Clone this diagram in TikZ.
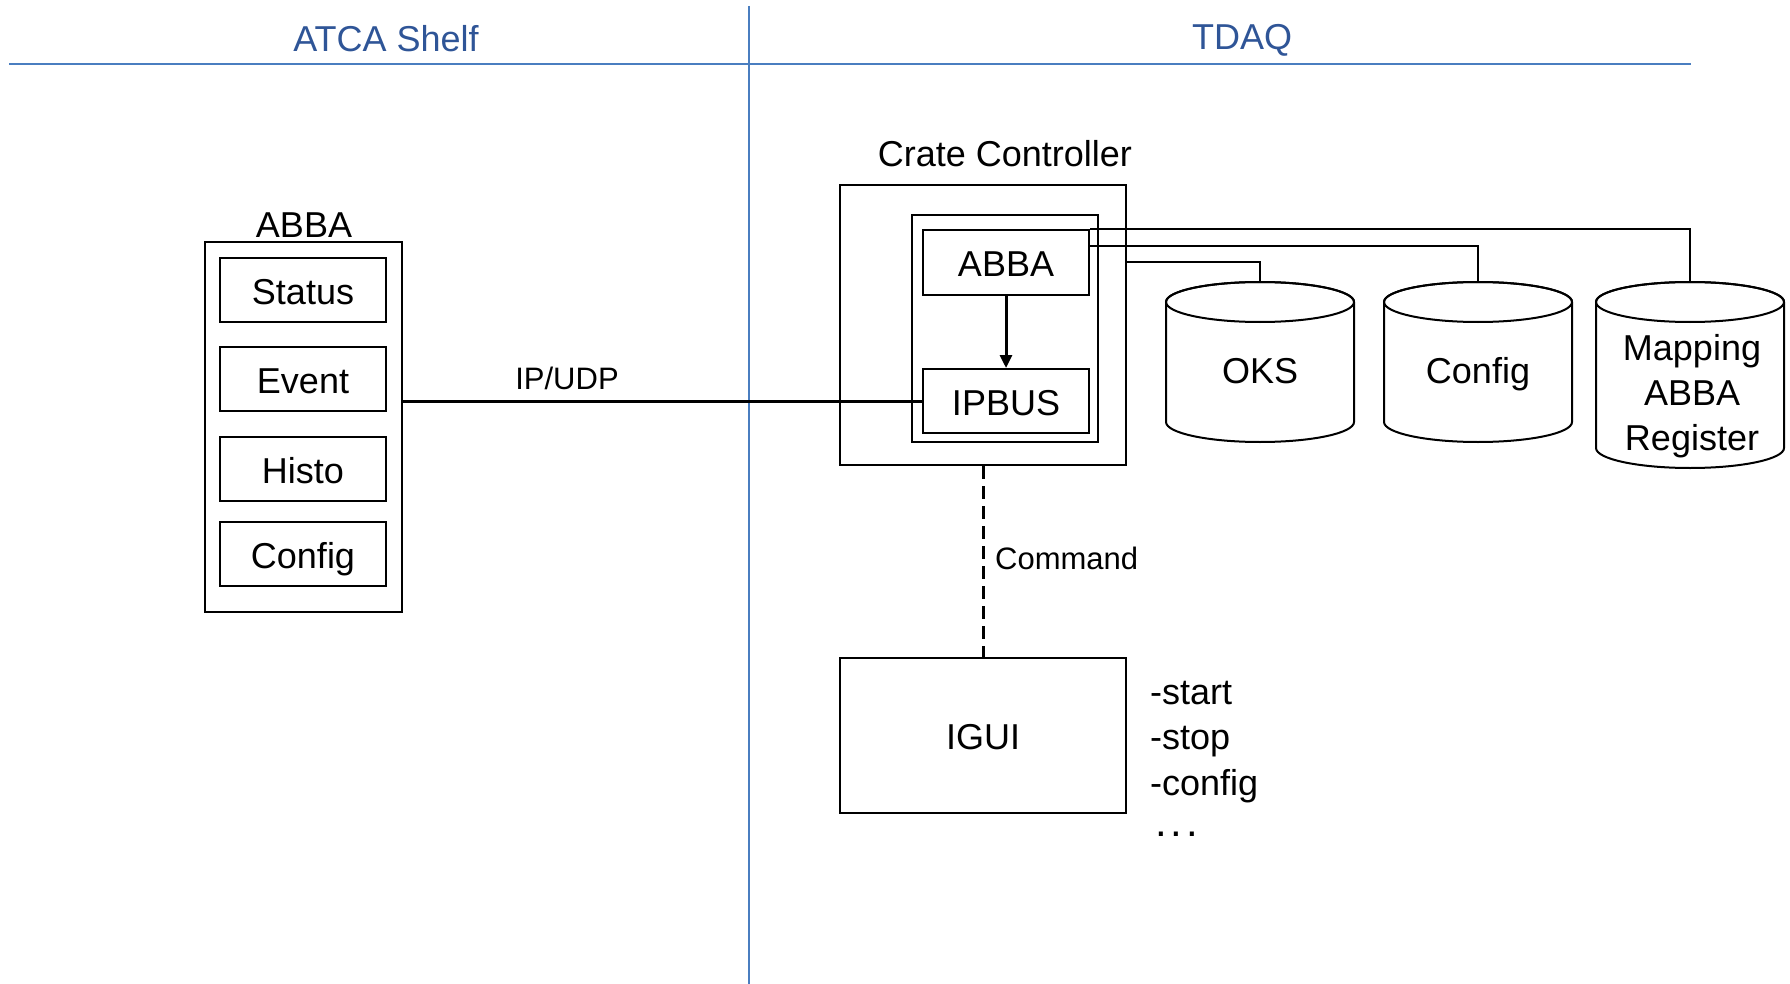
\documentclass[tikz,border=0pt]{standalone}
\usepackage{fontspec}
\setmainfont{Liberation Sans}
\usetikzlibrary{arrows.meta}
\definecolor{hdrtext}{HTML}{2F5597}
\definecolor{hdrline}{HTML}{4A7EC0}
\tikzset{
  x=1pt, y=1pt,
  box/.style={draw, line width=2pt, inner sep=0pt, text height=28pt, text depth=0pt, font=\fontsize{36}{43}\selectfont},
  lbl/.style={inner sep=0pt, text height=28pt, text depth=0pt, font=\fontsize{36}{43}\selectfont},
  small/.style={inner sep=0pt, font=\fontsize{31}{37}\selectfont},
  hdr/.style={inner sep=0pt, text height=26pt, text depth=0pt, text=hdrtext, font=\fontsize{36}{43}\selectfont},
  conn/.style={line width=2pt},
  cyl/.style={draw, line width=2pt, fill=white},
}
\begin{document}
\begin{tikzpicture}
\useasboundingbox (0,0) rectangle (1790,-984);
% header
\draw[hdrline, line width=2pt] (9,-64) -- (1691,-64);
\draw[hdrline, line width=2pt] (749,-6) -- (749,-984);
\node[hdr] (atca) at (386,-39) {ATCA Shelf};
\node[hdr] (tdaq) at (1242,-37) {TDAQ};

% left ABBA
\node[box, minimum width=197pt, minimum height=370pt] (labba) at (303.5,-427) {};
\node[lbl] (labbat) at (304,-224) {ABBA};
\node[box, minimum width=166pt, minimum height=64pt] (status) at (303,-290) {Status};
\node[box, minimum width=166pt, minimum height=64pt] (event) at (303,-379) {Event};
\node[box, minimum width=166pt, minimum height=64pt] (histo) at (303,-469) {Histo};
\node[box, minimum width=166pt, minimum height=64pt] (lconfig) at (303,-554) {Config};

% crate controller
\node[box, minimum width=286pt, minimum height=280pt] (crate) at (983,-325) {};
\node[lbl] (cratet) at (1005,-153) {Crate Controller};
\node[box, minimum width=186pt, minimum height=227pt] (inner) at (1005,-328.5) {};
\node[box, minimum width=166pt, minimum height=65pt] (abba) at (1006,-262.5) {ABBA};
\node[box, minimum width=166pt, minimum height=64pt] (ipbus) at (1006,-401) {IPBUS};

% IGUI
\node[box, minimum width=286pt, minimum height=155pt] (igui) at (983,-735.5) {IGUI};
\node[lbl, anchor=base west] (cstart) at (1150,-704) {-start};
\node[lbl, anchor=base west] (cstop) at (1150,-749.5) {-stop};
\node[lbl, anchor=base west] (cconfig) at (1150,-795) {-config};
\node[lbl, anchor=base west, font=\fontsize{42}{50}\selectfont] (cdots) at (1155,-836) {.\kern4pt.\kern4pt.};

% cylinders
\foreach \cx/\bot/\nm in {1260/442/oks, 1478/442/cfg, 1690/468/map}{
  \path[cyl] (\cx-94,-302) -- (\cx-94,-\bot+20)
     arc[start angle=180, end angle=360, x radius=94pt, y radius=20pt]
     -- (\cx+94,-302) arc[start angle=0, end angle=180, x radius=94pt, y radius=20pt] -- cycle;
  \draw[line width=2pt] (\cx,-302) ellipse [x radius=94pt, y radius=20pt];
  \coordinate (\nm) at (\cx,-282);
}
\node[lbl] (okst) at (1260,-369) {OKS};
\node[lbl] (cfgt) at (1478,-369) {Config};
\node[lbl, align=center, text height=, text depth=, font=\fontsize{36}{45}\selectfont] (mapt) at (1692,-396) {Mapping\\ABBA\\Register};

% connectors
\draw[line width=3pt] (ipbus.west) -- (ipbus.west -| labba.east);
\node[small] (ipudp) at (567,-378) {IP/UDP};
\draw[line width=3pt, -{Triangle[length=13pt,width=12pt]}] (abba.south) -- (ipbus.north);
\draw[line width=3pt, dash pattern=on 13pt off 7pt] (crate.south) -- (igui.north);
\node[small, anchor=west] (cmd) at (995,-558) {Command};

\draw[conn] (abba.north east) -| (map);
\draw[conn] ([yshift=16.5pt]abba.east) -| (cfg);
\draw[conn] (crate.east |- abba.east) -| (oks);
\end{tikzpicture}
\end{document}
